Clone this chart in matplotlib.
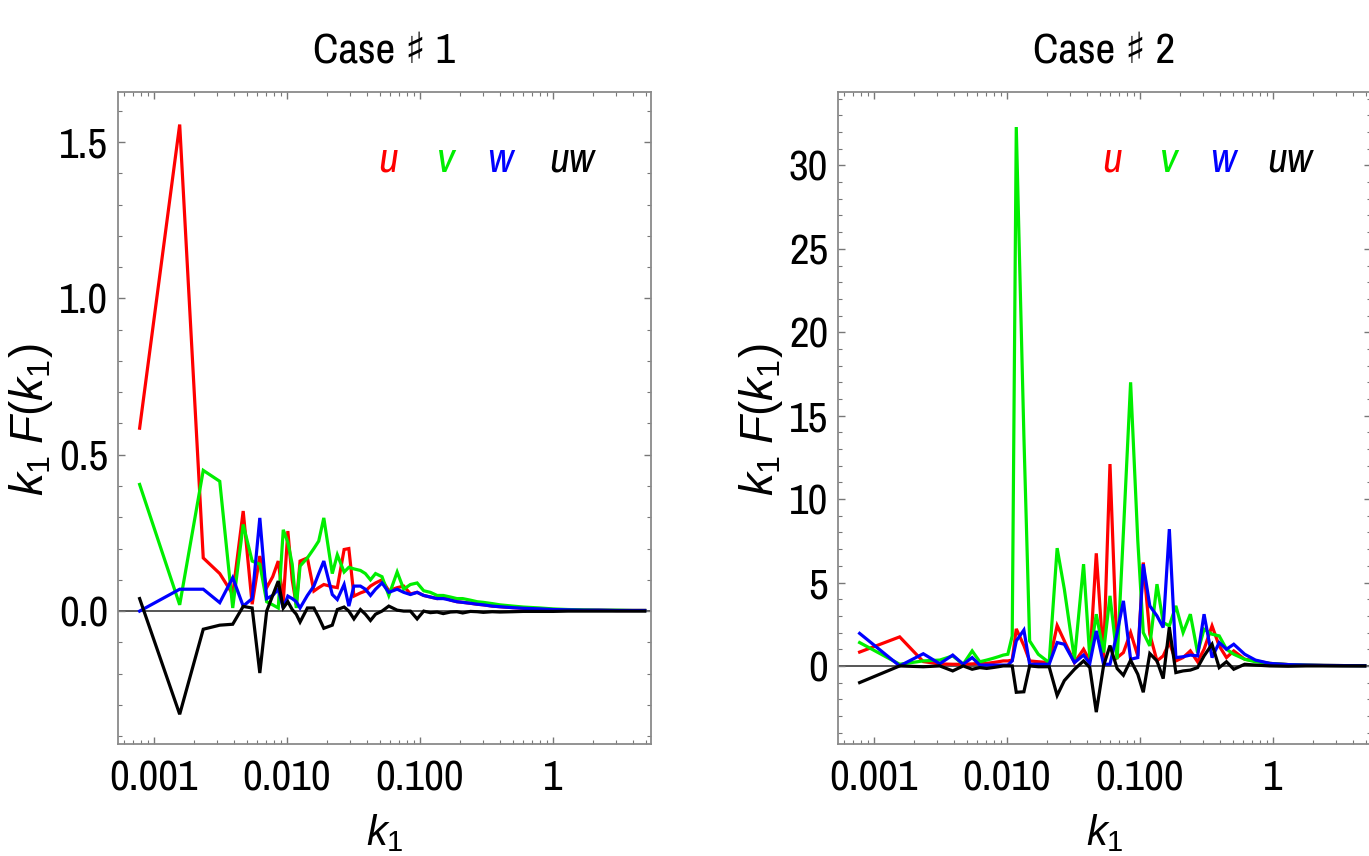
import numpy as np
import matplotlib
matplotlib.use("Agg")
import matplotlib.pyplot as plt
from matplotlib import font_manager as fm
from matplotlib.ticker import LogLocator, NullFormatter, MultipleLocator, FormatStrFormatter

# pick a condensed sans font if one is installed
NARROW = None
STRETCH = 'normal'
for f in fm.fontManager.ttflist:
    if ('Narrow' in f.name or 'Condensed' in f.name) and f.style == 'normal':
        NARROW = f.name
        break
if NARROW is None:
    for f in fm.fontManager.ttflist:
        st = f.stretch
        if (isinstance(st, str) and 'condensed' in st) or (isinstance(st, int) and st < 500):
            NARROW = f.name
            STRETCH = 'condensed'
            break
FOUND_NARROW = NARROW is not None
if NARROW is None:
    NARROW = 'Liberation Sans'
REG = 'Liberation Sans'

plt.rcParams['font.family'] = [NARROW, 'DejaVu Sans']
plt.rcParams['font.stretch'] = STRETCH
plt.rcParams['mathtext.fontset'] = 'custom'
plt.rcParams['mathtext.rm'] = REG
plt.rcParams['mathtext.it'] = REG + ':italic'

# ---------------- data: Case #1 ----------------
L_k = [0.000785, 0.00157, 0.00236, 0.00314, 0.00393, 0.00471, 0.0055, 0.00628, 0.00707, 0.00785,
       0.00864, 0.00942, 0.0102, 0.011, 0.0118, 0.0126, 0.0143, 0.016, 0.0174, 0.019,
       0.022, 0.024, 0.027, 0.0293, 0.032, 0.0358, 0.039, 0.0426, 0.0465, 0.052,
       0.0585, 0.0676, 0.0757, 0.085, 0.0955, 0.107, 0.12, 0.135, 0.15, 0.17,
       0.19, 0.21, 0.24, 0.27, 0.30, 0.35, 0.40, 0.50, 0.60, 0.80,
       1.0, 1.3, 1.7, 2.2, 3.0, 4.0, 4.9]
L_u = [0.585, 1.556, 0.17, 0.12, 0.054, 0.32, 0.022, 0.176, 0.075, 0.11,
       0.16, 0.03, 0.256, 0.10, 0.02, 0.16, 0.17, 0.064, 0.075, 0.085,
       0.078, 0.075, 0.197, 0.2, 0.048, 0.058, 0.064, 0.08, 0.09, 0.1,
       0.065, 0.075, 0.08, 0.055, 0.06, 0.05, 0.045, 0.04, 0.045, 0.035,
       0.03, 0.028, 0.025, 0.022, 0.02, 0.016, 0.014, 0.011, 0.009, 0.007,
       0.005, 0.004, 0.003, 0.003, 0.002, 0.002, 0.002]
L_v = [0.405, 0.02, 0.45, 0.415, 0.01, 0.277, 0.16, 0.15, 0.03, 0.02,
       0.01, 0.26, 0.22, 0.15, 0.01, 0.144, 0.17, 0.2, 0.224, 0.298,
       0.12, 0.18, 0.125, 0.14, 0.135, 0.13, 0.12, 0.1, 0.12, 0.11,
       0.05, 0.125, 0.07, 0.085, 0.09, 0.065, 0.06, 0.05, 0.05, 0.045,
       0.04, 0.04, 0.035, 0.03, 0.028, 0.024, 0.02, 0.016, 0.013, 0.01,
       0.007, 0.005, 0.004, 0.003, 0.003, 0.002, 0.002]
L_w = [0.0, 0.07, 0.07, 0.027, 0.107, 0.016, 0.04, 0.298, 0.04, 0.05,
       0.07, 0.01, 0.048, 0.04, 0.03, 0.01, 0.05, 0.08, 0.12, 0.16,
       0.053, 0.037, 0.085, 0.016, 0.08, 0.08, 0.07, 0.05, 0.07, 0.09,
       0.06, 0.07, 0.06, 0.053, 0.06, 0.05, 0.045, 0.04, 0.04, 0.035,
       0.03, 0.028, 0.025, 0.022, 0.02, 0.016, 0.014, 0.011, 0.009, 0.007,
       0.005, 0.004, 0.003, 0.003, 0.002, 0.002, 0.002]
L_uw = [0.04, -0.33, -0.058, -0.045, -0.042, 0.015, 0.01, -0.198, 0.0, 0.05,
        0.096, 0.01, 0.03, 0.005, -0.01, -0.035, 0.01, 0.01, -0.02, -0.055,
        -0.045, 0.005, 0.013, 0.0, -0.025, 0.005, -0.01, -0.03, -0.01, 0.0,
        0.016, 0.003, 0.0, 0.0, -0.025, 0.0, -0.005, -0.003, -0.008, -0.003,
        -0.002, -0.006, -0.001, -0.002, -0.004, -0.002, -0.003, -0.002, -0.001, -0.001,
        -0.001, 0.0, 0.0, 0.0, 0.0, 0.0, 0.0]

# ---------------- data: Case #2 ----------------
R_k = [0.000785, 0.00157, 0.00236, 0.00314, 0.00393, 0.00471, 0.0055, 0.00628, 0.00707, 0.00785,
       0.00864, 0.00942, 0.0102, 0.011, 0.0118, 0.01346, 0.01487, 0.01727, 0.02084, 0.02393,
       0.0271, 0.0323, 0.0378, 0.0421, 0.0471, 0.0534, 0.0597, 0.0676, 0.0753, 0.0853,
       0.0966, 0.1062, 0.1189, 0.1346, 0.1499, 0.1667, 0.1866, 0.2115, 0.2398, 0.2717,
       0.304, 0.349, 0.395, 0.448, 0.508, 0.614, 0.740, 0.95, 1.30, 1.78,
       2.43, 3.33, 4.9]
R_u = [0.83, 1.74, 0.26, 0.12, 0.1, 0.1, 0.12, 0.15, 0.15, 0.2,
       0.25, 0.3, 0.3, 0.35, 2.22, 1.22, 0.3, 0.25, 0.2, 2.42,
       1.5, 0.2, 1.0, 0.3, 6.75, 0.4, 12.1, 0.5, 0.8, 2.0,
       0.6, 6.2, 1.9, 0.3, 0.6, 1.4, 0.3, 0.5, 0.9, 0.25,
       1.0, 2.4, 1.2, 0.5, 0.9, 0.4, 0.3, 0.15, 0.08, 0.05,
       0.03, 0.02, 0.01]
R_v = [1.4, 0.1, 0.3, 0.35, 0.6, 0.1, 0.9, 0.25, 0.35, 0.45,
       0.55, 0.65, 0.7, 1.8, 32.3, 13.8, 1.5, 0.7, 0.2, 7.06,
       4.6, 0.4, 6.1, 0.5, 3.1, 0.8, 4.2, 0.4, 8.0, 17.0,
       7.5, 2.0, 1.2, 4.9, 2.6, 2.4, 3.6, 2.0, 3.1, 0.8,
       2.2, 1.9, 1.8, 1.0, 0.7, 0.4, 0.25, 0.15, 0.08, 0.05,
       0.03, 0.02, 0.01]
R_w = [1.95, 0.0, 0.73, 0.13, 0.65, 0.1, 0.5, 0.05, 0.05, 0.05,
       0.05, 0.05, 0.05, 0.3, 1.5, 2.15, 0.1, 0.1, 0.1, 1.4,
       1.3, 0.2, 0.65, 0.15, 2.1, 0.1, 0.1, 2.0, 3.9, 0.4,
       0.5, 6.1, 3.6, 3.0, 2.3, 8.2, 0.5, 0.55, 0.65, 0.6,
       3.1, 0.5, 1.4, 1.0, 1.3, 0.7, 0.35, 0.15, 0.08, 0.05,
       0.03, 0.02, 0.01]
R_uw = [-1.0, 0.0, -0.05, 0.0, -0.3, 0.0, -0.2, -0.1, -0.15, -0.1,
        -0.05, 0.0, 0.0, 0.0, -1.58, -1.55, 0.0, -0.05, -0.05, -1.77,
        -0.88, -0.2, 0.3, -0.1, -2.77, 0.0, 1.22, -0.16, -0.56, 0.34,
        -0.5, -1.58, 0.74, 0.3, -0.76, 2.32, -0.4, -0.3, -0.25, -0.1,
        0.6, 1.3, -0.1, 0.25, -0.2, 0.1, 0.05, 0.0, -0.02, 0.0,
        0.0, 0.0, 0.0]

series_names = ['u', 'v', 'w', 'uw']
colors = ['#ff0000', '#00ee00', '#0000ff', '#000000']
titles = ['Case \u266f 1', 'Case \u266f 2']
xtick_vals = [0.001, 0.01, 0.1, 1]
xtick_labels = ['0.001', '0.010', '0.100', '1']

W, H = 1369, 856
fig = plt.figure(figsize=(W / 100, H / 100), dpi=100)
axL = fig.add_axes([118 / W, (H - 744) / H, 533 / W, 652 / H])
axR = fig.add_axes([838 / W, (H - 744) / H, 533 / W, 652 / H])

FS = 31 if FOUND_NARROW else 27
frame_col = '#8a8a8a'


def style(ax, ylim, ymajor, yminor, yfmt, ylab_x):
    ax.set_xscale('log')
    ax.set_xlim(0.00054, 5.46)
    ax.set_ylim(*ylim)
    ax.set_xticks(xtick_vals)
    ax.set_xticklabels(xtick_labels)
    ax.xaxis.set_minor_locator(LogLocator(base=10, subs=np.arange(2, 10), numticks=20))
    ax.xaxis.set_minor_formatter(NullFormatter())
    ax.yaxis.set_major_locator(MultipleLocator(ymajor))
    ax.yaxis.set_minor_locator(MultipleLocator(yminor))
    ax.yaxis.set_major_formatter(FormatStrFormatter(yfmt))
    ax.tick_params(which='both', direction='in', top=True, right=True, color='#777777')
    ax.tick_params(which='major', length=5, width=1.0, labelsize=FS, pad=7)
    ax.tick_params(which='minor', length=2.8, width=0.8)
    ax.tick_params(axis='x', which='major', pad=11)
    for sp in ax.spines.values():
        sp.set_color(frame_col)
        sp.set_linewidth(1.3)
    ax.axhline(0, color='#555555', lw=1.4, zorder=1)
    ax.set_xlabel(r'$k_1$', fontsize=30)
    ax.xaxis.set_label_coords(0.5, -0.105)
    ax.set_ylabel(r'$k_1\;F(k_1)$', fontsize=33)
    ax.yaxis.set_label_coords(ylab_x, 0.497)


panels = [
    (axL, L_k, [L_u, L_v, L_w, L_uw], (-0.425, 1.66), 0.5, 0.1, '%.1f', -0.118, [0.507, 0.613, 0.717, 0.852]),
    (axR, R_k, [R_u, R_v, R_w, R_uw], (-4.68, 34.4), 5, 1, '%d', -0.100, [0.514, 0.619, 0.722, 0.848]),
]

for i, (ax, k, ys, ylim, ymaj, ymin, yfmt, ylx, lx) in enumerate(panels):
    for y, c in zip(ys, colors):
        ax.plot(k, y, color=c, lw=2.3, solid_joinstyle='miter', zorder=2)
    style(ax, ylim, ymaj, ymin, yfmt, ylx)
    ax.text(0.5, 1.064, titles[i], transform=ax.transAxes, ha='center', va='center', fontsize=FS)
    for name, c, x in zip(series_names, colors, lx):
        ax.text(x, 0.896, name, transform=ax.transAxes, ha='center', va='center',
                fontsize=FS, style='italic', color=c)

fig.savefig('out.png', dpi=100)
